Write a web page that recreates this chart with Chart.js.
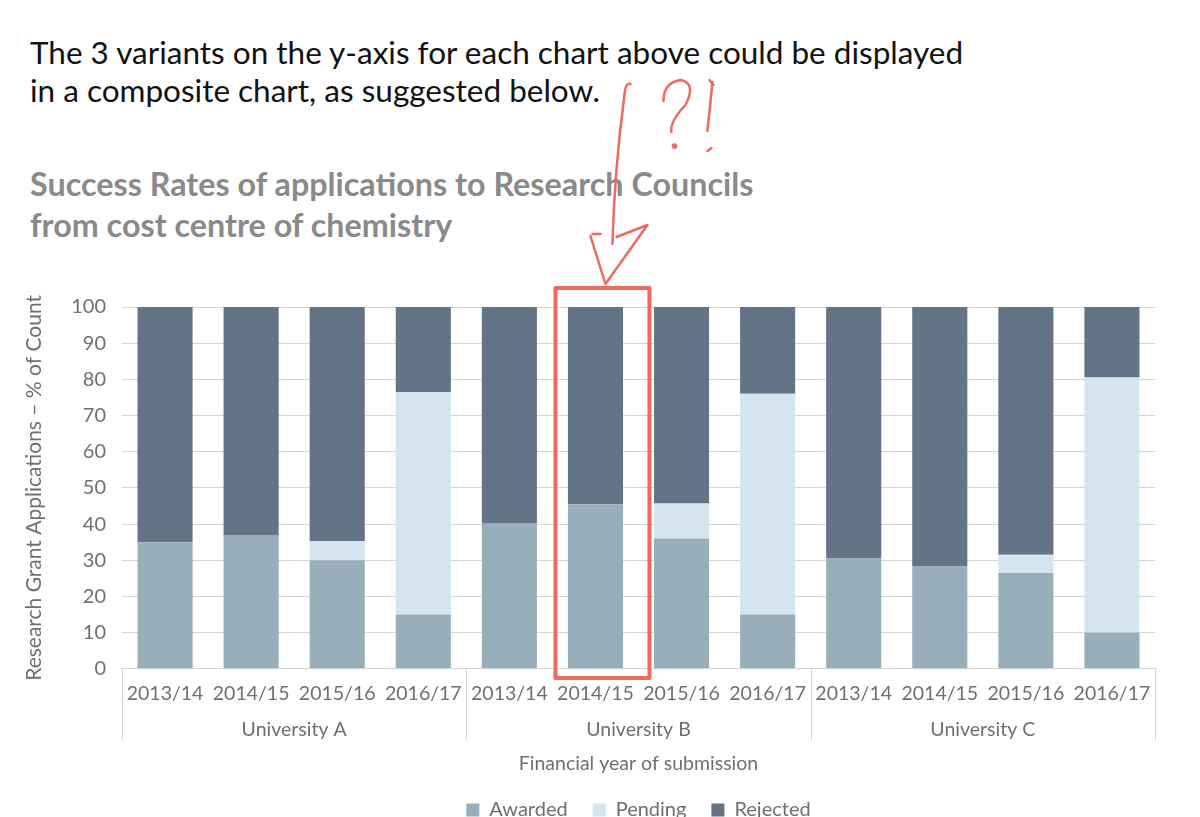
<!DOCTYPE html>
<html>
<head>
<meta charset="utf-8">
<script src="https://cdn.jsdelivr.net/npm/chart.js@4.4.0/dist/chart.umd.min.js"></script>
<style>
  html, body { margin: 0; padding: 0; background: #fff; overflow: hidden; }
  #wrap { position: relative; width: 1200px; height: 840px; }
  #intro { position: absolute; left: 30px; top: 33px; font-family: Lato, "Open Sans", sans-serif; font-size: 31.5px; line-height: 38px; color: #111; z-index: 1; }
  #title { position: absolute; left: 30px; top: 163px; font-family: Lato, "Open Sans", sans-serif; font-weight: bold; font-size: 32.3px; line-height: 41px; color: #8a8a8a; z-index: 1; }
  #myChart { position: absolute; left: 0; top: 0; z-index: 2; }
</style>
</head>
<body>
<div id="wrap">
  <div id="intro">The 3 variants on the y-axis for each chart above could be displayed<br>in a composite chart, as suggested below.</div>
  <div id="title">Success Rates of applications to Research Councils<br>from cost centre of chemistry</div>
  <canvas id="myChart" width="1200" height="830"></canvas>
</div>
<script>
// data block
const years = ['2013/14', '2014/15', '2015/16', '2016/17'];
const universities = ['University A', 'University B', 'University C'];
const labels = ['2013/14', '2014/15', '2015/16', '2016/17',
                '2013/14', '2014/15', '2015/16', '2016/17',
                '2013/14', '2014/15', '2015/16', '2016/17'];
const awarded  = [35, 37, 30, 15,   40.3, 45.5, 36, 15,    30.5, 28.3, 26.5, 10];
const pending  = [0, 0, 5.3, 61.5,  0, 0, 9.7, 61,         0, 0, 5, 70.5];
const rejected = [65, 63, 64.7, 23.5, 59.7, 54.5, 54.3, 24, 69.5, 71.7, 68.5, 19.5];
const yTicks = [0, 10, 20, 30, 40, 50, 60, 70, 80, 90, 100];
const highlightIndex = 5; // University B 2014/15

const gray = '#6f6f6f';
const lineGray = '#d6d6d6';
const red = '#ec6a5f';
const fontFam = 'Lato, "Open Sans", sans-serif';

// group separators under the x axis
const groupLines = {
  id: 'groupLines',
  afterDraw(chart) {
    const ctx = chart.ctx;
    const x = chart.scales.x;
    const x2 = chart.scales.x2;
    const step = x.getPixelForValue(1) - x.getPixelForValue(0);
    ctx.save();
    ctx.strokeStyle = lineGray;
    ctx.lineWidth = 1;
    for (let g = 0; g <= universities.length; g++) {
      const px = Math.round(x.getPixelForValue(g * years.length) - step / 2) + 0.5;
      ctx.beginPath();
      ctx.moveTo(px, x.top);
      ctx.lineTo(px, x2.top + 30);
      ctx.stroke();
    }
    ctx.restore();
  }
};

// centre the legend under the plot area, not the whole canvas
const legendCentre = {
  id: 'legendCentre',
  afterLayout(chart) {
    if (chart.legend) {
      chart.legend.left = chart.chartArea.left;
      chart.legend.right = chart.chartArea.right;
    }
  }
};

// hand drawn red marks round the highlighted bar
const scribble = {
  id: 'scribble',
  afterDraw(chart) {
    const ctx = chart.ctx;
    const x = chart.scales.x;
    const y = chart.scales.y;
    const cx = x.getPixelForValue(highlightIndex) + 3;
    const top = y.getPixelForValue(100);
    ctx.save();
    ctx.strokeStyle = red;
    ctx.lineCap = 'round';
    ctx.lineJoin = 'round';
    // box
    ctx.lineWidth = 4;
    ctx.strokeRect(cx - 43, top - 19, 94, 390);
    // arrow shaft
    ctx.lineWidth = 2.5;
    ctx.beginPath();
    ctx.moveTo(cx + 32, 84);
    ctx.quadraticCurveTo(cx + 27, 82, cx + 26, 95);
    ctx.quadraticCurveTo(cx + 16, 170, cx + 14, 244);
    ctx.stroke();
    // arrow head
    ctx.beginPath();
    ctx.moveTo(cx - 6, 234);
    ctx.lineTo(cx + 2, 234);
    ctx.moveTo(cx - 8, 236);
    ctx.lineTo(cx + 7, 284);
    ctx.lineTo(cx + 49, 225);
    ctx.lineTo(cx + 18, 237);
    ctx.stroke();
    // question mark
    ctx.beginPath();
    ctx.moveTo(cx + 65, 101);
    ctx.quadraticCurveTo(cx + 65, 82, cx + 83, 80);
    ctx.quadraticCurveTo(cx + 98, 84, cx + 87, 105);
    ctx.quadraticCurveTo(cx + 71, 122, cx + 73, 132);
    ctx.stroke();
    ctx.beginPath();
    ctx.arc(cx + 76, 146, 1.6, 0, Math.PI * 2);
    ctx.stroke();
    // exclamation mark
    ctx.beginPath();
    ctx.moveTo(cx + 111, 80);
    ctx.lineTo(cx + 115, 85);
    ctx.moveTo(cx + 114, 82);
    ctx.lineTo(cx + 109, 131);
    ctx.moveTo(cx + 109, 151);
    ctx.lineTo(cx + 113, 148);
    ctx.stroke();
    ctx.restore();
  }
};

const data = {
  labels: labels,
  datasets: [
    { label: 'Awarded', data: awarded, backgroundColor: '#99aebb' },
    { label: 'Pending', data: pending, backgroundColor: '#d4e5ef' },
    { label: 'Rejected', data: rejected, backgroundColor: '#627485' }
  ]
};

const config = {
  type: 'bar',
  data: data,
  options: {
    responsive: false,
    animation: false,
    layout: { padding: { top: 307, left: 18, right: 45, bottom: 0 } },
    datasets: { bar: { categoryPercentage: 1, barPercentage: 0.64 } },
    plugins: {
      legend: {
        position: 'bottom',
        labels: {
          boxWidth: 13, boxHeight: 13, padding: 25,
          color: gray, font: { family: fontFam, size: 20 }
        }
      },
      tooltip: { enabled: false }
    },
    scales: {
      x: {
        stacked: true,
        grid: { display: false },
        border: { display: true, color: lineGray },
        ticks: { color: gray, font: { family: fontFam, size: 19.5 }, padding: 5, maxRotation: 0, autoSkip: false }
      },
      x2: {
        type: 'category',
        labels: universities,
        position: 'bottom',
        offset: true,
        grid: { display: false },
        border: { display: false },
        ticks: { color: gray, font: { family: fontFam, size: 19.5 }, padding: 0 },
        title: { display: true, text: 'Financial year of submission', color: gray, font: { family: fontFam, size: 19.5 }, padding: { top: 10, bottom: 0 } }
      },
      y: {
        stacked: true,
        min: 0,
        max: 100,
        afterBuildTicks(axis) { axis.ticks = yTicks.map(v => ({ value: v })); },
        grid: { color: lineGray, drawTicks: false },
        border: { display: false },
        ticks: { color: gray, font: { family: fontFam, size: 20 }, padding: 16 },
        title: { display: true, text: 'Research Grant Applications – % of Count', color: gray, font: { family: fontFam, size: 21 }, padding: { bottom: 8 } }
      }
    }
  },
  plugins: [groupLines, legendCentre, scribble]
};

const myChart = new Chart(document.getElementById('myChart'), config);
</script>
</body>
</html>
